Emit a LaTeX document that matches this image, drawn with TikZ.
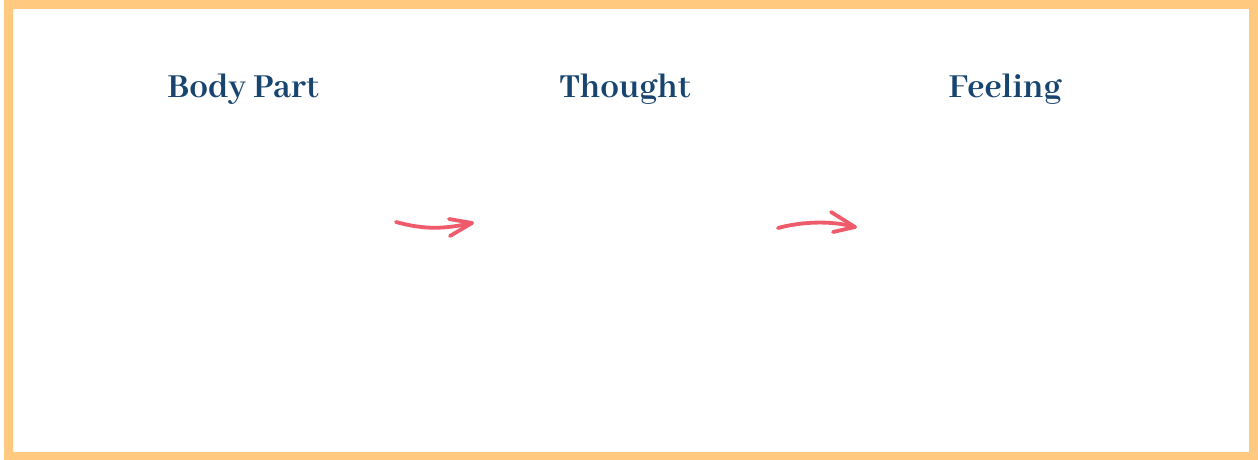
\documentclass[tikz,border=0pt]{standalone}
\usepackage{fontspec}
\setmainfont{Abhaya Libre}[UprightFont=* SemiBold, BoldFont=* Bold]
\definecolor{frameorange}{HTML}{FFC97F}
\definecolor{titleblue}{HTML}{174570}
\definecolor{arrowred}{HTML}{EF5B6B}
\tikzset{
  title/.style={text=titleblue, font=\bfseries\fontsize{18.5}{22}\selectfont, anchor=center, inner sep=0pt},
  sketcharrow/.style={draw=arrowred, line width=1.9pt, line cap=round, line join=round},
}
\begin{document}
\begin{tikzpicture}[x=0.5pt,y=-0.5pt]
\useasboundingbox (0,0) rectangle (1258,460);
\fill[white] (0,0) rectangle (1258,460);
\fill[frameorange, even odd rule] (4,0) rectangle (1258,460) (13,9) rectangle (1249,452);
\node[title] (body) at (243,89.5) {Body Part};
\node[title] (thought) at (625,89.5) {Thought};
\node[title] (feeling) at (1005,89.5) {Feeling};
% arrow 1
\coordinate (a1s) at (396,222);
\coordinate (a1t) at (472,223);
\coordinate (a1u) at (449,219);
\coordinate (a1l) at (450,236);
\draw[sketcharrow] (a1s) .. controls (425,230) and (445,229) .. (a1t);
\draw[sketcharrow] (a1u) -- (a1t) -- (a1l);
% arrow 2
\coordinate (a2s) at (778,228);
\coordinate (a2t) at (855,227);
\coordinate (a2u) at (831,212);
\coordinate (a2l) at (833,232);
\draw[sketcharrow] (a2s) .. controls (800,222) and (830,220) .. (a2t);
\draw[sketcharrow] (a2u) -- (a2t) -- (a2l);
\end{tikzpicture}
\end{document}
